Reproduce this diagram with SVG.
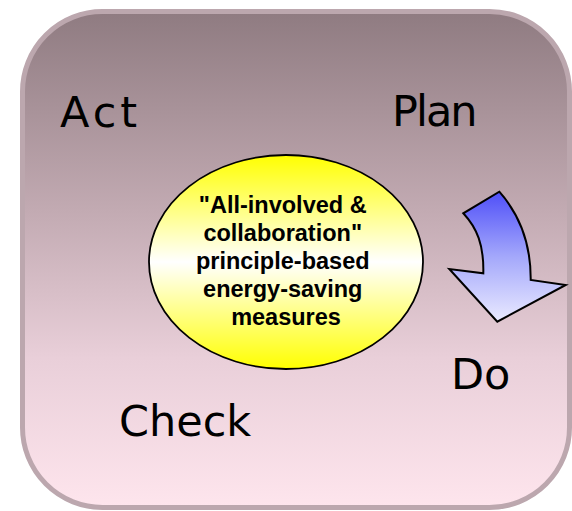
<svg xmlns="http://www.w3.org/2000/svg" width="572" height="511" viewBox="0 0 572 511">
  <defs>
    <linearGradient id="bgFill" x1="0" y1="0" x2="0" y2="1">
      <stop offset="0" stop-color="#8f7b81"/>
      <stop offset="0.4" stop-color="#c2aab2"/>
      <stop offset="0.7" stop-color="#e9cfd9"/>
      <stop offset="1" stop-color="#fee5ed"/>
    </linearGradient>
    <linearGradient id="ovalFill" x1="0" y1="0" x2="0" y2="1">
      <stop offset="0" stop-color="#ffff00"/>
      <stop offset="0.5" stop-color="#ffffff"/>
      <stop offset="1" stop-color="#ffff00"/>
    </linearGradient>
    <linearGradient id="arrowFill" x1="0" y1="0" x2="0" y2="1">
      <stop offset="0" stop-color="#4f4ff8"/>
      <stop offset="0.5" stop-color="#a4a8fb"/>
      <stop offset="1" stop-color="#eaeaff"/>
    </linearGradient>
  </defs>
  <style>
    .stage { fill: url(#bgFill); stroke: #bca7ae; stroke-width: 5; }
    .phase { font-family: "DejaVu Sans", "Noto Sans", sans-serif; font-size: 43px; fill: #000; }
    .core { fill: url(#ovalFill); stroke: #000; stroke-width: 1.8; }
    .coreText { font-family: "Liberation Sans", Arial, sans-serif; font-weight: bold; font-size: 23.5px; fill: #000; text-anchor: middle; }
    .turn { fill: url(#arrowFill); stroke: #000; stroke-width: 2; stroke-linejoin: miter; }
  </style>

  <!-- rounded background panel -->
  <rect class="stage" x="22.5" y="11.5" width="547" height="496" rx="80" ry="80"/>

  <!-- PDCA labels -->
  <g id="act"><text class="phase" x="60" y="127" letter-spacing="4">Act</text></g>
  <g id="plan"><text class="phase" x="392" y="126" letter-spacing="-2">Plan</text></g>
  <g id="do"><text class="phase" x="451" y="389">Do</text></g>
  <g id="check"><text class="phase" x="119" y="436">Check</text></g>

  <!-- central principle oval -->
  <g id="principle">
    <ellipse class="core" cx="286" cy="262" rx="137" ry="107"/>
    <text class="coreText">
      <tspan x="286" y="213">"All-involved &amp;</tspan>
      <tspan x="286" y="241">collaboration"</tspan>
      <tspan x="286" y="269">principle-based</tspan>
      <tspan x="286" y="297">energy-saving</tspan>
      <tspan x="286" y="325">measures</tspan>
    </text>
  </g>

  <!-- curved arrow from Plan to Do -->
  <g id="connectors">
    <path class="turn" d="M499.3,191.7 C520,215 531,245 530.7,280 L565.7,285 L497.3,321.7 L449.3,269 L483.3,273.3 C484,245 477,228 463.3,213.3 Z"/>
  </g>
</svg>
